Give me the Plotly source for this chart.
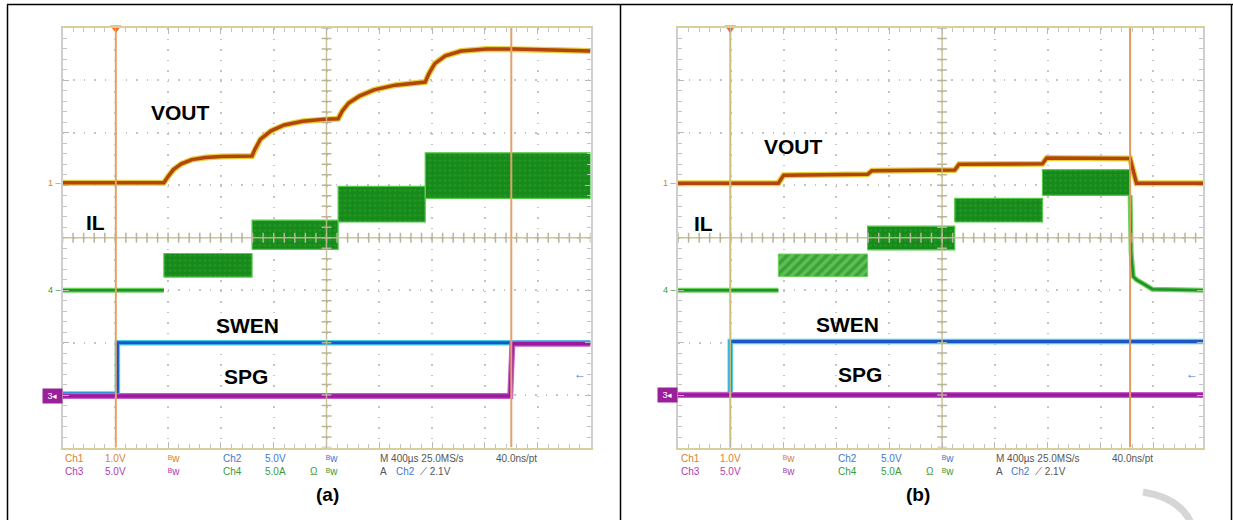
import numpy as np
import plotly.graph_objects as go

# ---- panel (a) : traces in scope divisions (x: -5..5, y: -4..4) ----
a_vout_t = [-5, -3.08, -3.0, -2.9, -2.75, -2.55, -2.29, -1.99, -1.41, -1.35, -1.25, -1.05, -0.8, -0.45,
            -0.05, 0.22, 0.3, 0.42, 0.62, 0.9, 1.3, 1.87, 1.94, 2.05, 2.25, 2.55, 3.03, 3.55, 4.3, 5.0]
a_vout_v = [1.05, 1.05, 1.17, 1.3, 1.41, 1.49, 1.53, 1.55, 1.56, 1.7, 1.88, 2.04, 2.15, 2.22,
            2.26, 2.27, 2.42, 2.57, 2.7, 2.82, 2.91, 2.97, 3.13, 3.32, 3.47, 3.56, 3.6, 3.6, 3.58, 3.56]
a_il_t = [-5, -3.08]
a_il_v = [-1.0, -1.0]
a_il_edges = [-3.08, -1.41, 0.22, 1.87, 5.0]
a_il_top = [-0.30, 0.335, 0.98, 1.62]
a_il_bot = [-0.75, -0.22, 0.30, 0.75]
a_swen_t = [-5, -3.96, -3.96, 5.0]
a_swen_v = [-2.98, -2.98, -2.0, -2.0]
a_spg_t = [-5, 3.48, 3.52, 5.0]
a_spg_v = [-3.02, -3.02, -2.02, -2.02]
a_cursors = [-3.99, 3.50]

# ---- panel (b) ----
b_vout_t = [-5, -3.10, -3.0, -1.41, -1.33, 0.24, 0.32, 1.90, 1.98, 3.56, 3.68, 4.94]
b_vout_v = [1.04, 1.04, 1.19, 1.21, 1.28, 1.29, 1.40, 1.41, 1.52, 1.51, 1.04, 1.04]
b_il_t = [-5, -3.10, None, 3.56, 3.58, 3.62, 3.68, 3.83, 3.98, 4.94]
b_il_v = [-1.0, -1.0, None, 0.81, -0.3, -0.74, -0.80, -0.89, -0.98, -1.0]
b_il_edges = [-3.10, -1.41, 0.24, 1.90, 3.56]
b_il_top = [-0.31, 0.22, 0.75, 1.30]
b_il_bot = [-0.74, -0.23, 0.30, 0.81]
b_swen_t = [-5, -4.01, -4.01, 4.94]
b_swen_v = [-2.99, -2.99, -1.98, -1.98]
b_spg_t = [-5, 4.94]
b_spg_v = [-3.0, -3.0]
b_cursors = [-4.01, 3.56]

ORANGE = '#d9822b'
PURPLE = '#b23bb2'
BLUE = '#3f78d0'
GREEN = '#3a9a3a'
FONT = 'Liberation Sans, Arial'

W, H = 1233, 520
GY0, GY1 = 28, 447.5


def px(x):
    return x / W


def py(y):
    return 1 - y / H


fig = go.Figure()


def bands(edges, top, bot, idx):
    xs, ys = [], []
    for i in idx:
        xs += [edges[i], edges[i], edges[i + 1], edges[i + 1], edges[i], None]
        ys += [bot[i], top[i], top[i], bot[i], bot[i], None]
    return xs, ys


def add_panel(xa, ya, xmax, vout_t, vout_v, il_t, il_v, edges, top, bot, swen_t, swen_v,
              spg_t, spg_v, cursors, cur_colors, saw_first):
    kw = dict(xaxis=xa, yaxis=ya, mode='lines', hoverinfo='skip', showlegend=False)
    # VOUT
    fig.add_trace(go.Scatter(x=vout_t, y=vout_v, line=dict(color='#e6cf3a', width=6), **kw))
    fig.add_trace(go.Scatter(x=vout_t, y=vout_v, line=dict(color='#b2440e', width=3.5), **kw))
    # IL
    fig.add_trace(go.Scatter(x=il_t, y=il_v, line=dict(color='#6ad35a', width=5), **kw))
    fig.add_trace(go.Scatter(x=il_t, y=il_v, line=dict(color='#22902a', width=2.5), **kw))
    idx = list(range(len(top)))
    if saw_first:
        sx, sy = bands(edges, top, bot, [0])
        fig.add_trace(go.Scatter(x=sx, y=sy, fill='toself', line=dict(color='#6cd35c', width=1),
                                 fillpattern=dict(shape='/', fgcolor='#1c7f22', bgcolor='#5cc053',
                                                  size=7, solidity=0.5), **kw))
        idx = idx[1:]
    bx, by = bands(edges, top, bot, idx)
    fig.add_trace(go.Scatter(x=bx, y=by, fill='toself', line=dict(color='#55c94a', width=1.2),
                             fillcolor='#17881c',
                             fillpattern=dict(shape='.', fgcolor='#36a636', bgcolor='#168a1a',
                                              size=5, solidity=0.2), **kw))
    # SWEN
    fig.add_trace(go.Scatter(x=swen_t, y=swen_v, line=dict(color='#46d0e8', width=5.5), **kw))
    fig.add_trace(go.Scatter(x=swen_t, y=swen_v, line=dict(color='#1a56c4', width=3), **kw))
    # SPG
    fig.add_trace(go.Scatter(x=spg_t, y=spg_v, line=dict(color='#c45cc8', width=6), **kw))
    fig.add_trace(go.Scatter(x=spg_t, y=spg_v, line=dict(color='#9a1a9e', width=3.5), **kw))
    # graticule centre cross with ticks
    gcol = 'rgba(196,190,140,0.9)'
    tx = [t for t in np.round(np.arange(-5, 5.001, 0.2), 2) if t <= xmax]
    ty = list(np.round(np.arange(-4, 4.001, 0.2), 2))
    fig.add_trace(go.Scatter(x=[-5, xmax], y=[0, 0], line=dict(color=gcol, width=1.5), **kw))
    fig.add_trace(go.Scatter(x=[0, 0], y=[-4, 4], line=dict(color=gcol, width=1.5), **kw))
    fig.add_trace(go.Scatter(x=tx, y=[0] * len(tx), mode='markers', xaxis=xa, yaxis=ya,
                             hoverinfo='skip', showlegend=False,
                             marker=dict(symbol='line-ns', size=7, line=dict(color='#b9b49a', width=1.5))))
    fig.add_trace(go.Scatter(x=[0] * len(ty), y=ty, mode='markers', xaxis=xa, yaxis=ya,
                             hoverinfo='skip', showlegend=False,
                             marker=dict(symbol='line-ew', size=7, line=dict(color='#b9b49a', width=1.5))))
    # cursors
    for c, col in zip(cursors, cur_colors):
        fig.add_trace(go.Scatter(x=[c, c], y=[-4, 4], line=dict(color=col, width=2), **kw))
    fig.add_trace(go.Scatter(x=[cursors[0]], y=[4], mode='markers', xaxis=xa, yaxis=ya, cliponaxis=False,
                             hoverinfo='skip', showlegend=False,
                             marker=dict(symbol='triangle-down', size=10, color='#f26a1b')))
    # channel markers
    fig.add_annotation(x=-5, y=vout_v[0], xref=xa, yref=ya, xanchor='right', text='1 ‒',
                       font=dict(size=9, color=ORANGE, family=FONT), showarrow=False)
    fig.add_annotation(x=-5, y=il_v[0], xref=xa, yref=ya, xanchor='right', text='4 ‒',
                       font=dict(size=9, color=GREEN, family=FONT), showarrow=False)
    fig.add_annotation(x=-5, y=spg_v[0], xref=xa, yref=ya, xanchor='right', text='3◂',
                       font=dict(size=9, color='white', family=FONT), bgcolor='#9a1f9a',
                       width=17, height=12, borderpad=1, showarrow=False)
    fig.add_annotation(x=xmax - 0.2, y=-2.6, xref=xa, yref=ya, text='←',
                       font=dict(size=12, color=BLUE, family=FONT), showarrow=False)


add_panel('x', 'y', 5.0, a_vout_t, a_vout_v, a_il_t, a_il_v, a_il_edges, a_il_top, a_il_bot,
          a_swen_t, a_swen_v, a_spg_t, a_spg_v, a_cursors, ['#e3a26b', '#e3a26b'], False)
add_panel('x2', 'y2', 4.94, b_vout_t, b_vout_v, b_il_t, b_il_v, b_il_edges, b_il_top, b_il_bot,
          b_swen_t, b_swen_v, b_spg_t, b_spg_v, b_cursors, ['#cbbd7a', '#e09a60'], True)

# signal labels
labels = ['VOUT', 'IL', 'SWEN', 'SPG']
a_label_x = [-2.76, -4.38, -1.49, -1.52]
a_label_y = [2.38, 0.29, -1.67, -2.64]
b_label_x = [-2.82, -4.51, -1.80, -1.55]
b_label_y = [1.74, 0.28, -1.66, -2.61]
for xa, ya, lx, ly in [('x', 'y', a_label_x, a_label_y), ('x2', 'y2', b_label_x, b_label_y)]:
    for t, x, y in zip(labels, lx, ly):
        fig.add_annotation(x=x, y=y, xref=xa, yref=ya, text=f'<b>{t}</b>', showarrow=False,
                           font=dict(size=21, color='black', family=FONT))

# scope status text under each screen
row1 = [(0.5, 'Ch1', ORANGE), (40, '1.0V', ORANGE), (103.5, 'ᴮw', ORANGE), (158, 'Ch2', BLUE),
        (200.5, '5.0V', BLUE), (261.5, 'ᴮw', BLUE), (315.5, 'M 400µs 25.0MS/s', '#555555'),
        (431.5, '40.0ns/pt', '#555555')]
row2 = [(0.5, 'Ch3', PURPLE), (40, '5.0V', PURPLE), (103.5, 'ᴮw', PURPLE), (158, 'Ch4', GREEN),
        (200.5, '5.0A', GREEN), (245.5, 'Ω', GREEN), (261.5, 'ᴮw', GREEN), (315.5, 'A', '#555555'),
        (331, 'Ch2', BLUE), (355, '⟋ 2.1V', '#555555')]
for ox in [62.5, 678]:
    for ry, row in [(458.5, row1), (471.5, row2)]:
        for dx, t, col in row:
            fig.add_annotation(x=px(ox + dx), y=py(ry), xref='paper', yref='paper', xanchor='left',
                               yanchor='middle', text=t, showarrow=False,
                               font=dict(size=10, color=col, family=FONT))

fig.add_annotation(x=px(314), y=py(507), xref='paper', yref='paper', text='<b>(a)</b>', showarrow=False,
                   font=dict(size=19, color='black', family=FONT))
fig.add_annotation(x=px(932), y=py(507), xref='paper', yref='paper', text='<b>(b)</b>', showarrow=False,
                   font=dict(size=19, color='black', family=FONT))

# table frame and faint watermark arc
frame = dict(type='line', xref='paper', yref='paper', line=dict(color='black', width=1.5))
fig.add_shape(x0=px(7), x1=px(1233), y0=py(4.5), y1=py(4.5), **frame)
fig.add_shape(x0=px(7.5), x1=px(7.5), y0=py(4.5), y1=-0.02, **frame)
fig.add_shape(x0=px(620.5), x1=px(620.5), y0=py(4.5), y1=-0.02, **frame)
fig.add_shape(x0=px(1231.5), x1=px(1231.5), y0=py(4.5), y1=-0.02, **frame)
fig.add_shape(type='path', xref='paper', yref='paper',
              path=f'M {px(1143)} {py(492)} Q {px(1180)} {py(498)} {px(1191)} {py(523)}',
              line=dict(color='#d6d6d6', width=7))


def axis_cfg(domain, rng, dtick_minor=0.2):
    return dict(domain=domain, range=rng, showticklabels=False, ticks='inside', ticklen=6,
                tickcolor='#b8b8b8', tick0=0, dtick=1, showgrid=True, gridcolor='#c4c4c4',
                griddash='1.5px,9px', gridwidth=1.5, zeroline=False, showline=True,
                linecolor='#cfcfcf', linewidth=2, mirror='ticks', fixedrange=True,
                minor=dict(dtick=dtick_minor, ticks='inside', ticklen=4, tickcolor='#c4c4c4',
                           showgrid=False))


xa1 = axis_cfg([px(62.5), px(590.5)], [-5, 5])
xa2 = axis_cfg([px(678), px(1203)], [-5, 4.94])
xa1['linecolor'] = '#d8cf9c'
xa2['linecolor'] = '#d8cf9c'
ya = axis_cfg([py(GY1), py(GY0)], [-4, 4])

fig.update_layout(
    width=W, height=H, margin=dict(l=0, r=0, t=0, b=0),
    paper_bgcolor='white', plot_bgcolor='white',
    xaxis=xa1, yaxis=dict(ya, anchor='x'),
    xaxis2=dict(xa2, anchor='y2'), yaxis2=dict(ya, anchor='x2'),
    showlegend=False,
)

fig.write_html("out.html", config={'displayModeBar': False},
               post_script="document.body.style.margin='0';document.body.style.overflow='hidden';")
